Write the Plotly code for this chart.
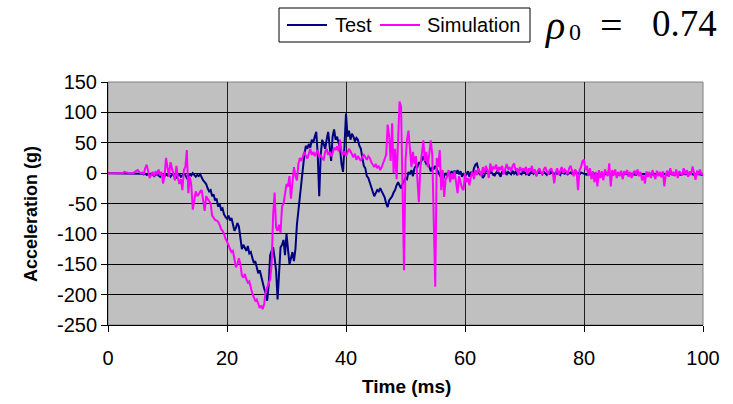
import plotly.graph_objects as go

# ---------------- data ----------------
T_STEP_MS = 0.25

test_g = [
    0, 0, 0, 0, 0, 0, 0, 0, 0, 0, 0, 0, 0, 0, 0, 0, 0, 0, 0, 0,
    0, 0, 0, -1, -2, -1, -3, -2, -4, -1, -2, -5, -3, -1, -4, -6, -2, -3, -5, -2,
    -4, -2, -6, -3, -1, -5, -7, -3, -2, -6, -4, -1, -3, -8, -5, -2, -4, 0, -3, -6,
    -3, -5, -2, -8, -12, -15, -18, -25, -30, -28, -38, -35, -45, -42, -55, -50, -60, -58, -68, -72,
    -75, -70, -78, -74, -88, -95, -90, -82, -88, -110, -125, -118, -122, -128, -120, -132, -130, -138, -148, -145,
    -155, -165, -160, -172, -180, -190, -198, -210, -185, -135, -128, -122, -140, -160, -208, -170, -122, -118, -110, -135,
    -100, -125, -150, -140, -130, -145, -125, -85, -60, -45, -20, 5, 30, 45, 40, 48, 42, 55, 50, 60,
    68, 30, -38, 30, 55, 48, 40, 55, 68, 45, 20, 60, 72, 55, 60, 50, 40, 15, 2, 45,
    98, 60, 70, 55, 65, 60, 52, 58, 55, 45, 40, 25, 12, 8, -5, -8, -15, -22, -30, -38,
    -33, -28, -30, -25, -30, -35, -40, -50, -56, -45, -42, -38, -32, -28, -20, -15, -20, -25, -18, -12,
    -8, -10, 2, -2, 5, -5, 8, 12, 10, 18, 15, 22, 28, 20, 15, 18, 8, 3, 10, 6,
    12, 8, 2, -3, -8, -12, -5, 0, -4, 2, -2, 3, -1, 4, 0, 5, -2, 3, -6, 0,
    -5, -2, 3, -6, 2, -4, 8, 14, 16, 5, -3, 2, -8, -4, 6, 3, -2, 5, 0, -3,
    -4, 2, 5, -2, -6, 3, -1, 4, -3, 2, 0, -2, 4, -1, 2, -3, 1, 0, -2, 3,
    2, -2, 0, -4, 1, 3, -1, 2, -3, 0, 4, 1, -2, 2, 0, -3, 1, -1, 3, 0,
    -2, 1, -1, 0, -3, 2, 0, -1, 1, -2, 0, 1, -1, 0, 2, -1, 0, -2, 1, 0,
    -1, -2, -3, -1, -2, -3, -2, -1, -3, -2, -2, -3, -1, -2, -2, -3, -2, -1, -2, -3,
    -2, -1, -3, -2, -2, -1, -3, -2, -1, -2, -3, -2, -1, -2, -2, -3, -1, -2, -3, -2,
    -1, -2, -2, -3, -2, -1, -2, -3, -2, -2, -1, -3, -2, -2, -1, -2, -3, -2, -1, -2,
    -2, -3, -1, -2, -2, -3, -2, -1, -2, -2, -3, -2, -1, -2, -3, -2, -2, -1, -2, -3,
    -2,
]

sim_g = [
    0, 0, 0, 0, 0, 0, 0, 0, 0, 0, 0, 2, 1, 0, 0, 0, 0, 0, 2, 4,
    5, 2, 0, 1, -2, 8, 14, 3, -8, -3, 2, -5, 3, -2, 6, -4, 2, -17, -5, 25,
    8, -6, 18, 10, -2, -12, 12, -8, -18, -10, -28, 5, 10, 38, -33, -6, -20, -60, -40, -30,
    -38, -35, -30, -28, -45, -62, -38, -42, -46, -50, -70, -74, -77, -78, -80, -85, -92, -95, -100, -108,
    -112, -118, -125, -130, -128, -145, -155, -150, -140, -150, -168, -172, -166, -175, -180, -178, -190, -198, -204, -210,
    -208, -215, -222, -218, -224, -215, -195, -188, -182, -175, -150, -70, -32, -90, -95, -85, -98, -55, -50, -35,
    -18, -22, -5, -42, -10, 10, -5, -12, 15, 25, 20, 30, 35, 28, 24, 32, 40, 30, 35, 28,
    32, 38, 26, 30, 24, 22, 35, 40, 30, 35, 28, 32, 42, 38, 44, 36, 55, 35, 30, 36,
    28, 34, 40, 36, 30, 26, 32, 22, 28, 24, 20, 27, 30, 26, 22, 28, 25, 18, 14, 10,
    15, 8, 12, 5, 10, 18, 22, 30, 80, 60, 20, 82, 0, 40, -10, 60, 118, 110, -40, -160,
    20, 55, 70, 45, 10, 35, 15, 28, -10, -48, 10, 30, 54, 20, 35, 10, 28, 54, 30, -60,
    -187, 25, 10, 38, -28, 5, -39, -10, -6, 5, -15, 0, -10, 3, -17, -33, -5, -15, -25, -28,
    0, -15, -8, -20, -5, 2, -10, 5, -3, 8, 2, -5, 10, 0, 12, 5, -8, 16, 3, 10,
    8, 14, 2, 10, 5, 12, -2, 8, 15, 6, 10, 3, 12, 16, 5, 8, -3, 10, 4, 7,
    5, 10, -2, 8, 3, 12, 0, 6, -5, 4, 8, 2, -3, 6, 10, 3, -2, 5, 8, 0,
    -17, 2, 8, -3, 5, 10, 0, 6, 3, -2, 8, 12, 4, -5, 6, 2, -28, 5, 10, 20,
    22, 5, 12, -5, 8, -10, 3, -15, 2, -22, 5, -8, 3, -12, 6, 0, -5, 16, -22, 5,
    -3, 6, -8, 2, -5, 4, -10, 3, -2, 5, -6, 2, -8, 0, 4, -3, 6, -5, 2, -12,
    -4, -17, 3, -6, 2, -8, 5, -3, -10, 4, -5, 2, -7, 3, -22, -2, 4, -6, 8, -3,
    2, -5, 6, -8, 3, 0, -4, 8, -2, 5, -6, 3, -3, 11, 0, -11, 4, -2, 6, -3,
    0,
]

time_test = [i * T_STEP_MS for i in range(len(test_g))]
time_sim = [i * T_STEP_MS for i in range(len(sim_g))]

series_names = ["Test", "Simulation"]
series_colors = ["#000080", "#FF00FF"]
x_ticks = [0, 20, 40, 60, 80, 100]
y_ticks = [150, 100, 50, 0, -50, -100, -150, -200, -250]

# ---------------- layout geometry ----------------
W, H = 733, 404
L, R, T, B = 108, 30, 82, 79
PW, PH = W - L - R, H - T - B
SANS = "Liberation Sans, Arial, sans-serif"
SERIF = "Liberation Serif, Times New Roman, serif"


def px_x(px):
    return (px - L) / PW


def px_y(py):
    return (H - B - py) / PH


fig = go.Figure()
fig.add_trace(go.Scatter(x=time_test, y=test_g, mode="lines", name=series_names[0],
                         line=dict(color=series_colors[0], width=2)))
fig.add_trace(go.Scatter(x=time_sim, y=sim_g, mode="lines", name=series_names[1],
                         line=dict(color=series_colors[1], width=2)))

fig.update_layout(
    width=W, height=H,
    margin=dict(l=L, r=R, t=T, b=B),
    paper_bgcolor="white",
    plot_bgcolor="#C0C0C0",
    font=dict(family=SANS, size=20, color="black"),
    showlegend=False,
    xaxis=dict(
        range=[0, 100], tickvals=x_ticks, ticktext=[str(v) for v in x_ticks],
        showgrid=True, gridcolor="#202020", gridwidth=1,
        zeroline=False, showline=True, linecolor="black", linewidth=1,
        ticks="outside", ticklen=6, tickcolor="black",
        tickfont=dict(family=SANS, size=20), ticklabelstandoff=9,
    ),
    yaxis=dict(
        range=[-250, 150], tickvals=y_ticks, ticktext=[str(v) for v in y_ticks],
        showgrid=True, gridcolor="black", gridwidth=1,
        zeroline=False, showline=True, linecolor="black", linewidth=1,
        ticks="outside", ticklen=6, tickcolor="black",
        tickfont=dict(family=SANS, size=20),
    ),
)

# plot-area border (top/right in grey like the reference)
fig.add_shape(type="rect", xref="paper", yref="paper", x0=0, y0=0, x1=1, y1=1,
              line=dict(color="#808080", width=1), layer="below")

# legend box drawn by hand to match the reference framing
fig.add_shape(type="rect", xref="paper", yref="paper",
              x0=px_x(279), x1=px_x(530), y0=px_y(42), y1=px_y(8),
              line=dict(color="black", width=1), fillcolor="white")
legend_items = [(287, 327, 333), (380, 420, 425)]
for (lx0, lx1, tx), name, col in zip(legend_items, series_names, series_colors):
    fig.add_shape(type="line", xref="paper", yref="paper",
                  x0=px_x(lx0), x1=px_x(lx1), y0=px_y(25), y1=px_y(25),
                  line=dict(color=col, width=2))
    fig.add_annotation(xref="paper", yref="paper", showarrow=False,
                       text=name, x=px_x(tx), y=px_y(25),
                       xanchor="left", yanchor="middle",
                       font=dict(family=SANS, size=20, color="black"))

annotations = [
    dict(text="<b>Acceleration (g)</b>", x=px_x(31), y=px_y(214), textangle=-90,
         font=dict(family=SANS, size=18)),
    dict(text="<b>Time (ms)</b>", x=px_x(406), y=px_y(386),
         font=dict(family=SANS, size=19)),
    dict(text="<i>ρ</i>", x=px_x(554), y=px_y(25), font=dict(family=SERIF, size=40)),
    dict(text="0", x=px_x(575), y=px_y(32), font=dict(family=SERIF, size=24)),
    dict(text="=", x=px_x(611), y=px_y(26), font=dict(family=SERIF, size=40)),
    dict(text="0.74", x=px_x(684), y=px_y(24), font=dict(family=SERIF, size=37)),
]
for a in annotations:
    fig.add_annotation(xref="paper", yref="paper", showarrow=False,
                       xanchor="center", yanchor="middle", **a)

fig.write_html("out.html")
